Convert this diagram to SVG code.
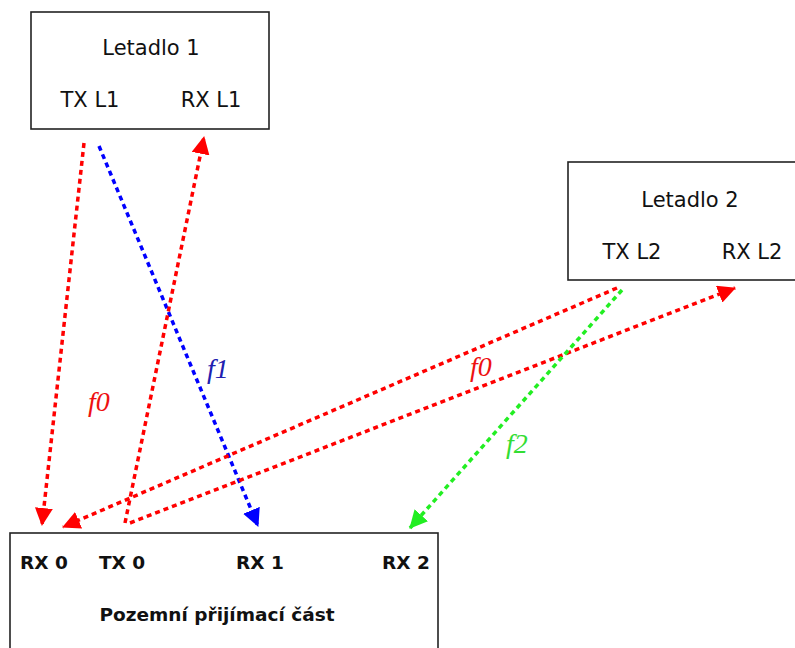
<svg xmlns="http://www.w3.org/2000/svg" width="795" height="648" viewBox="0 0 795 648">
<style>
.box{fill:#fff;stroke:#222;stroke-width:1.6}
.t{font-family:"DejaVu Sans",Verdana,sans-serif;font-size:21px;fill:#111;text-anchor:middle}
.b{font-family:"DejaVu Sans",Verdana,sans-serif;font-size:18.5px;font-weight:bold;fill:#111;text-anchor:middle}
.lk{fill:none;stroke-width:3.5;stroke-dasharray:5 4}
.lab{font-family:"Liberation Serif","Times New Roman",serif;font-style:italic;font-size:28px}
</style>
<defs>
<marker id="ar" markerUnits="userSpaceOnUse" markerWidth="18" markerHeight="18" refX="17" refY="9" orient="auto"><path d="M0,0 L18,9 L0,18 z" fill="#ff0000"/></marker>
<marker id="ab" markerUnits="userSpaceOnUse" markerWidth="18" markerHeight="18" refX="17" refY="9" orient="auto"><path d="M0,0 L18,9 L0,18 z" fill="#0000ff"/></marker>
<marker id="ag" markerUnits="userSpaceOnUse" markerWidth="18" markerHeight="18" refX="17" refY="9" orient="auto"><path d="M0,0 L18,9 L0,18 z" fill="#22ee22"/></marker>
</defs>
<rect width="795" height="648" fill="#fff"/>
<g id="letadlo1">
<rect class="box" x="31" y="12" width="238" height="117"/>
<text class="t" x="151" y="55">Letadlo 1</text>
<text class="t" x="90" y="107">TX L1</text>
<text class="t" x="211" y="107">RX L1</text>
</g>
<g id="letadlo2">
<rect class="box" x="568" y="162" width="240" height="118"/>
<text class="t" x="690" y="207">Letadlo 2</text>
<text class="t" x="632" y="259">TX L2</text>
<text class="t" x="752" y="259">RX L2</text>
</g>
<g id="pozemni">
<rect class="box" x="10" y="533" width="428" height="130"/>
<text class="b" x="44" y="569">RX 0</text>
<text class="b" x="122" y="569">TX 0</text>
<text class="b" x="260" y="569">RX 1</text>
<text class="b" x="406" y="569">RX 2</text>
<text class="b" x="217" y="621">Pozemní přijímací část</text>
</g>
<g id="connectors">
<line class="lk" stroke="#ff0000" x1="84" y1="143" x2="42" y2="525" marker-end="url(#ar)"/>
<line class="lk" stroke="#0000ff" x1="99" y1="146" x2="258" y2="526" marker-end="url(#ab)"/>
<line class="lk" stroke="#ff0000" x1="125" y1="523" x2="204" y2="137" marker-end="url(#ar)"/>
<line class="lk" stroke="#ff0000" x1="617" y1="288" x2="63" y2="527" marker-end="url(#ar)"/>
<line class="lk" stroke="#ff0000" x1="130" y1="523" x2="735" y2="288" marker-end="url(#ar)"/>
<line class="lk" stroke="#22ee22" x1="622" y1="290" x2="410" y2="528" marker-end="url(#ag)"/>
<text class="lab" x="88" y="411" fill="#ee1111">f0</text>
<text class="lab" x="207" y="378" fill="#2020b0">f1</text>
<text class="lab" x="470" y="376" fill="#ee1111">f0</text>
<text class="lab" x="506" y="453" fill="#33dd33">f2</text>
</g>
</svg>
